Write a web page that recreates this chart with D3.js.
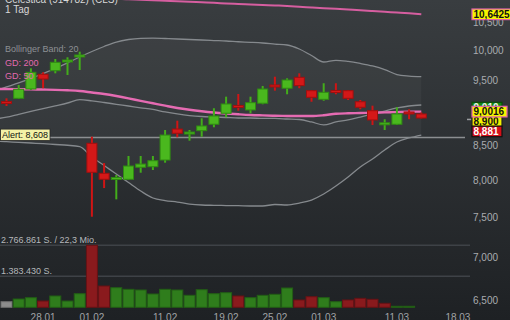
<!DOCTYPE html>
<html>
<head>
<meta charset="utf-8">
<script src="https://cdn.jsdelivr.net/npm/d3@7"></script>
<style>
  html, body { margin: 0; padding: 0; background: #2c3033; }
  svg { display: block; font-family: "Liberation Sans", Arial, sans-serif; }
</style>
</head>
<body>
<div id="chart"></div>
<script>
// daily candles (EUR)
const open  = [9.159, 9.210, 9.359, 9.599, 9.658, 9.809, 9.897, 8.524, 8.095, 8.019, 8.012, 8.179, 8.187, 8.282, 8.736, 8.672, 8.711, 8.808, 8.976, 9.097, 9.027, 9.132, 9.424, 9.371, 9.549, 9.332, 9.194, 9.335, 9.332, 9.156, 9.016, 8.815, 8.808, 8.996, 8.965];
const high  = [9.210, 9.424, 9.698, 9.632, 9.855, 9.884, 9.980, 8.621, 8.239, 8.071, 8.340, 8.340, 8.340, 8.721, 8.862, 8.721, 8.899, 9.054, 9.236, 9.279, 9.236, 9.408, 9.559, 9.533, 9.615, 9.343, 9.452, 9.452, 9.343, 9.183, 9.094, 8.884, 9.069, 9.038, 8.988];
const low   = [9.089, 9.199, 9.343, 9.371, 9.615, 9.587, 9.670, 7.512, 7.892, 7.740, 8.008, 8.103, 8.141, 8.244, 8.612, 8.562, 8.621, 8.762, 8.914, 9.016, 8.976, 9.116, 9.332, 9.274, 9.371, 9.156, 9.172, 9.274, 9.183, 9.038, 8.797, 8.721, 8.797, 8.884, 8.896];
const close = [9.150, 9.354, 9.632, 9.521, 9.799, 9.838, 9.923, 8.109, 8.012, 8.037, 8.197, 8.225, 8.272, 8.646, 8.672, 8.691, 8.782, 8.934, 9.121, 9.082, 9.141, 9.359, 9.403, 9.505, 9.413, 9.226, 9.306, 9.319, 9.210, 9.069, 8.873, 8.830, 8.965, 8.980, 8.903];
const volume = [250000, 370000, 430000, 280000, 505000, 280000, 607000, 2766861, 950000, 875000, 803000, 772000, 594000, 803000, 772000, 535000, 785000, 607000, 652000, 505000, 430000, 535000, 580000, 861000, 326000, 473000, 430000, 250000, 326000, 400000, 357000, 178000, 45000, 45000, 0];

// indicator lines: first value belongs to the day before the first candle
const bbUpper  = [9.327, 9.392, 9.457, 9.530, 9.612, 9.695, 9.788, 9.889, 9.983, 10.069, 10.147, 10.191, 10.212, 10.217, 10.209, 10.200, 10.191, 10.182, 10.173, 10.165, 10.152, 10.142, 10.130, 10.112, 10.095, 10.026, 9.914, 9.804, 9.833, 9.813, 9.779, 9.737, 9.678, 9.595, 9.570, 9.559];
const bbMiddle = [8.888, 8.915, 8.960, 9.004, 9.047, 9.091, 9.136, 9.188, 9.170, 9.144, 9.116, 9.089, 9.061, 9.035, 8.996, 8.965, 8.941, 8.926, 8.918, 8.911, 8.903, 8.903, 8.896, 8.896, 8.888, 8.880, 8.843, 8.797, 8.843, 8.873, 8.918, 8.965, 9.011, 9.058, 9.089, 9.105];
const bbLower  = [8.557, 8.547, 8.538, 8.528, 8.518, 8.506, 8.495, 8.474, 8.325, 8.204, 8.085, 7.967, 7.852, 7.758, 7.724, 7.704, 7.678, 7.665, 7.661, 7.658, 7.656, 7.652, 7.652, 7.672, 7.665, 7.691, 7.731, 7.811, 7.919, 8.043, 8.183, 8.296, 8.426, 8.543, 8.602, 8.646];
const gd50  = [9.359, 9.359, 9.356, 9.353, 9.350, 9.345, 9.338, 9.327, 9.303, 9.279, 9.247, 9.210, 9.170, 9.132, 9.094, 9.058, 9.030, 9.007, 8.988, 8.973, 8.960, 8.949, 8.943, 8.938, 8.935, 8.934, 8.934, 8.946, 8.968, 8.976, 8.980, 8.985, 8.990, 8.994, 8.999, 9.0016];
const gd200 = [11.030, 11.021, 11.011, 11.002, 10.992, 10.983, 10.974, 10.964, 10.955, 10.946, 10.932, 10.921, 10.912, 10.902, 10.893, 10.884, 10.874, 10.865, 10.856, 10.843, 10.833, 10.824, 10.815, 10.806, 10.796, 10.782, 10.769, 10.756, 10.745, 10.732, 10.719, 10.704, 10.689, 10.675, 10.660, 10.6425];

const dateTicks  = [3, 7, 13, 18, 22, 26, 32, 37];
const dateLabels = ["28.01", "01.02", "11.02", "19.02", "25.02", "01.03", "11.03", "18.03"];
const priceTicks = [6.5, 7, 7.5, 8, 8.5, 9, 9.5, 10, 10.5];

const alertLevel = 8.608;
const quoteValues = [9.010, 8.900, 8.881]; // green, yellow, last (red)
const turnover = "22,3 Mio.";

const width = 510, height = 320;
const de = d3.formatLocale({ decimal: ",", thousands: ".", grouping: [3], currency: ["", " €"] });
const fmt3 = de.format(".3f"), fmt4 = de.format(".4f"), fmtVol = de.format(",d");

const x = d3.scaleLinear().domain([0, 37]).range([6.5, 457.9]);
const y = d3.scaleLog().domain([6.5, 10.5]).range([300.8, 22.15]);
const vMax = d3.max(volume);
const vy = d3.scaleLinear().domain([0, vMax]).range([307.3, 245.3]);

const svg = d3.select("#chart").append("svg")
  .attr("width", width).attr("height", height);

const defs = svg.append("defs");
const grad = defs.append("linearGradient").attr("id", "bg")
  .attr("x1", 0).attr("y1", 0).attr("x2", 0).attr("y2", 1);
grad.append("stop").attr("offset", 0).attr("stop-color", "#393d40");
grad.append("stop").attr("offset", 1).attr("stop-color", "#1e2124");

svg.append("rect").attr("width", width).attr("height", height).attr("fill", "url(#bg)");

const lx = (d, i) => x(i - 1);

// bollinger band fill
svg.append("path")
  .datum(bbUpper)
  .attr("d", d3.area().x(lx).y0((d, i) => y(bbLower[i])).y1(d => y(d)).curve(d3.curveMonotoneX))
  .attr("fill", "rgba(255,255,255,0.035)");

// volume grid + labels
const halfVol = Math.floor(vMax / 2);
[vMax, halfVol].forEach(v => {
  svg.append("line")
    .attr("x1", 0).attr("x2", 470).attr("y1", vy(v)).attr("y2", vy(v))
    .attr("stroke", "#3e4247").attr("stroke-width", 1.5);
});
svg.append("text").attr("x", 1).attr("y", vy(vMax) - 2.5)
  .attr("font-size", 9).attr("fill", "#b5b8bb")
  .text(fmtVol(vMax) + " S. / " + turnover);
svg.append("text").attr("x", 1).attr("y", vy(halfVol) - 2)
  .attr("font-size", 9).attr("fill", "#b5b8bb")
  .text(fmtVol(halfVol) + " S.");

// volume bars, coloured by close vs previous close
svg.selectAll(".vol")
  .data(d3.range(volume.length).filter(i => volume[i] > 0))
  .join("rect")
  .attr("class", "vol")
  .attr("x", i => x(i) - 5.5)
  .attr("width", 11)
  .attr("y", i => vy(volume[i]))
  .attr("height", i => Math.max(1, vy(0) - vy(volume[i])))
  .attr("fill", i => i === 0 ? "#8c8c8c" : (close[i] >= close[i - 1] ? "#2f7d1c" : "#8a1a1d"))
  .attr("stroke", i => i === 0 ? "#6e6e6e" : (close[i] >= close[i - 1] ? "#225e15" : "#671215"))
  .attr("stroke-width", 1);

// alert line
svg.append("line")
  .attr("x1", 0).attr("x2", 465).attr("y1", y(alertLevel)).attr("y2", y(alertLevel))
  .attr("stroke", "#8b8e91").attr("stroke-width", 1.5);

// bollinger lines
const line = d3.line().x(lx).y(d => y(d)).curve(d3.curveMonotoneX);
[bbUpper, bbMiddle, bbLower].forEach(s => {
  svg.append("path").datum(s).attr("d", line)
    .attr("fill", "none").attr("stroke", "#85898d").attr("stroke-width", 1.3);
});

// moving averages
svg.append("path").datum(gd200).attr("d", line)
  .attr("fill", "none").attr("stroke", "#d65ea0").attr("stroke-width", 2);
svg.append("path").datum(gd50).attr("d", line)
  .attr("fill", "none").attr("stroke", "#e56bb2").attr("stroke-width", 2.4);

// candles
const up = i => close[i] >= open[i];
const candle = svg.selectAll(".candle")
  .data(d3.range(open.length))
  .join("g").attr("class", "candle");

candle.append("line")
  .attr("x1", i => x(i)).attr("x2", i => x(i))
  .attr("y1", i => y(high[i])).attr("y2", i => y(low[i]))
  .attr("stroke", i => up(i) ? "#43ad1b" : "#cf1515")
  .attr("stroke-width", 2);

candle.append("rect")
  .attr("x", i => x(i) - 5)
  .attr("width", 10)
  .attr("y", i => y(Math.max(open[i], close[i])))
  .attr("height", i => Math.max(2, Math.abs(y(open[i]) - y(close[i]))))
  .attr("fill", i => up(i) ? "#4ab81e" : "#d41818")
  .attr("stroke", i => up(i) ? "#2f8a12" : "#a10f0f")
  .attr("stroke-width", 1);

// title
svg.append("text").attr("x", 5).attr("y", 2.5)
  .attr("font-size", 10).attr("fill", "#d8d8d8")
  .text("Celestica (914782) (CLS)");
svg.append("text").attr("x", 5).attr("y", 13)
  .attr("font-size", 10).attr("fill", "#d8d8d8")
  .text("1 Tag");

// legend
const legend = [
  { t: "Bollinger Band: 20", c: "#8d9094", y: 52.3 },
  { t: "GD: 200", c: "#e26aae", y: 66 },
  { t: "GD: 50", c: "#e26aae", y: 79 }
];
svg.selectAll(".leg").data(legend).join("text")
  .attr("class", "leg")
  .attr("x", 5).attr("y", d => d.y)
  .attr("font-size", 9).attr("fill", d => d.c)
  .text(d => d.t);

// alert label
const ay = y(alertLevel);
svg.append("rect").attr("x", 0.5).attr("y", ay - 8.5).attr("width", 49.5).attr("height", 11.4)
  .attr("fill", "#f4f1a6").attr("stroke", "#2a2a2a").attr("stroke-width", 0.8);
svg.append("text").attr("x", 2).attr("y", ay + 0.5)
  .attr("font-size", 9).attr("fill", "#111")
  .text("Alert: " + fmt3(alertLevel));

// price axis labels
svg.selectAll(".tick").data(priceTicks).join("text")
  .attr("class", "tick")
  .attr("x", 473).attr("y", d => y(d) + 3.6)
  .attr("font-size", 10).attr("fill", "#a9acaf")
  .text(d => fmt3(d));

// date labels
svg.selectAll(".date").data(dateTicks).join("text")
  .attr("class", "date")
  .attr("x", d => x(d)).attr("y", 320.5)
  .attr("text-anchor", "middle")
  .attr("font-size", 10).attr("fill", "#a0a3a6")
  .text((d, i) => dateLabels[i]);

// last price tick
const lastQ = quoteValues[2];
svg.append("line").attr("x1", 467).attr("x2", 471.5)
  .attr("y1", y(lastQ)).attr("y2", y(lastQ))
  .attr("stroke", "#9a9da0").attr("stroke-width", 1.5);

// value boxes on the right
function valueBox(cy, txt, fill, stroke, color, w) {
  svg.append("rect").attr("x", 472).attr("y", cy - 5.3).attr("width", w).attr("height", 10.6)
    .attr("fill", fill).attr("stroke", stroke).attr("stroke-width", 1.2);
  svg.append("text").attr("x", 473.5).attr("y", cy + 3.7)
    .attr("font-size", 10).attr("font-weight", "bold").attr("fill", color)
    .text(txt);
}
const gd50Last = gd50[gd50.length - 1];
const gd200Last = gd200[gd200.length - 1];
const yelY = y(quoteValues[1]) + 3;
valueBox(y(gd50Last) - 4, fmt3(quoteValues[0]), "#128a12", "#0a4d0a", "#e8f5e8", 30);
valueBox(yelY, fmt3(quoteValues[1]), "#f2f200", "#222", "#111", 30);
valueBox(yelY + 10.2, fmt3(quoteValues[2]), "#d3101a", "#111", "#ffffff", 30);
valueBox(y(gd50Last), fmt4(gd50Last), "#f5f500", "#e463ad", "#111", 35);
valueBox(y(gd200Last), fmt4(gd200Last), "#f5f500", "#e463ad", "#111", 40);
</script>
</body>
</html>
